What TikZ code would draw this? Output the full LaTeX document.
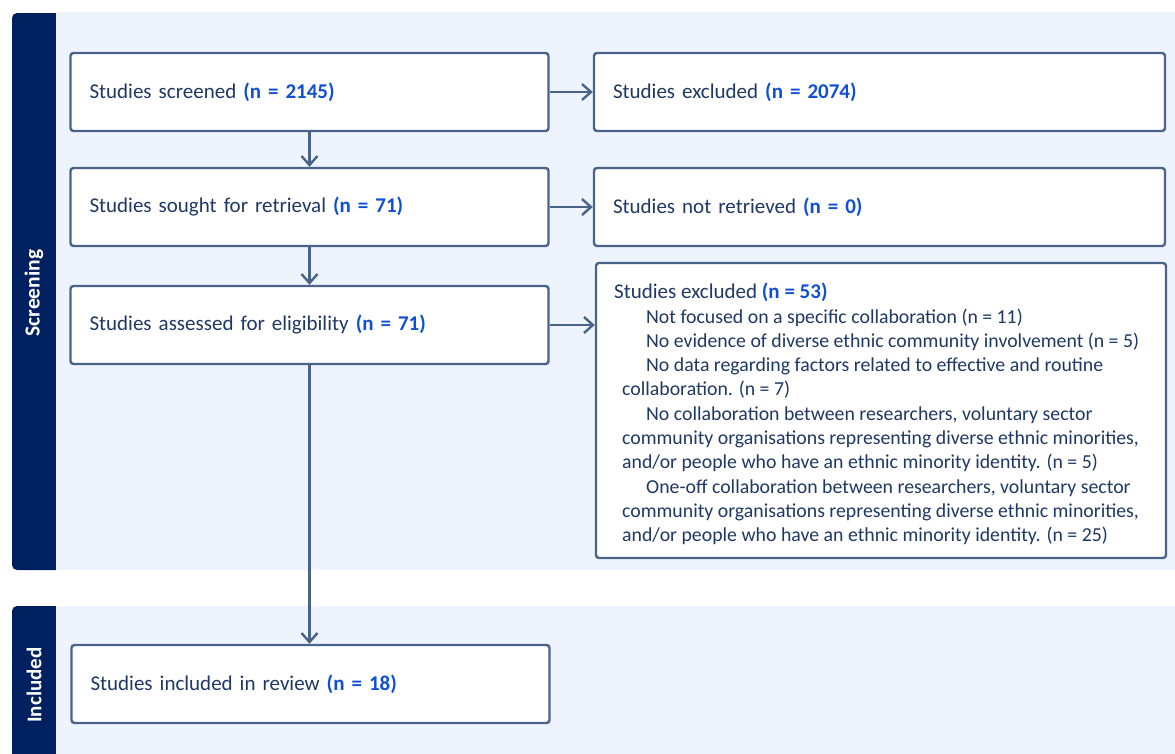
\documentclass[tikz,border=0pt]{standalone}
\usepackage{fontspec}
\setmainfont{Carlito}
\usetikzlibrary{arrows.meta}
\definecolor{navy}{HTML}{002060}
\definecolor{panel}{HTML}{EDF4FD}
\definecolor{edge}{HTML}{4A6489}
\definecolor{txt}{HTML}{1F3864}
\definecolor{hl}{HTML}{0F4FD8}
\newcommand{\nval}[1]{\textbf{\color{hl}#1}}
\begin{document}
\begin{tikzpicture}[x=1pt,y=-1pt,
  box/.style={draw=edge, line width=2.4pt, rounded corners=3pt, fill=white,
    minimum height=78pt, text width=#1, inner xsep=19pt, align=left,
    text=txt, font=\fontsize{21}{24}\selectfont},
  box/.default=440pt,
  conn/.style={draw=edge, line width=2.4pt, -{Straight Barb[length=9pt,width=16pt]}},
  bandlbl/.style={rotate=90, text=white, font=\bfseries\fontsize{#1}{20}\selectfont},
  listtxt/.style={anchor=north west, inner sep=0pt, align=left, text=txt,
    font=\fontsize{19.8}{24.3}\selectfont}]
\clip (0,0) rectangle (1175,753);
\fill[white] (0,0) rectangle (1175,753);
% bands
\begin{scope}
\clip (0,0) rectangle (56.5,753);
\fill[navy, rounded corners=5pt] (12,13) rectangle (80,570);
\fill[navy, rounded corners=5pt] (12,606) rectangle (80,780);
\end{scope}
\fill[panel] (56,12) rectangle (1175,570);
\fill[panel] (56,606) rectangle (1175,780);
\node[bandlbl=21.5] (lscr) at (34,293) {Screening};
\node[bandlbl=21] (linc) at (34,685) {Included};
% boxes
\node[box] (b1) at (309.5,92) {Studies screened \nval{(n = 2145)}};
\node[box] (b2) at (309.5,207) {Studies sought for retrieval \nval{(n = 71)}};
\node[box] (b3) at (309.5,325) {Studies assessed for eligibility \nval{(n = 71)}};
\node[box] (b4) at (310.5,684) {Studies included in review \nval{(n = 18)}};
\node[box=533pt] (e1) at (879.5,92) {Studies excluded \nval{(n = 2074)}};
\node[box=533pt] (e2) at (879.5,207) {Studies not retrieved \nval{(n = 0)}};
\node[draw=edge, line width=2.4pt, rounded corners=3pt, fill=white,
  minimum width=570pt, minimum height=295pt, inner sep=0pt] (e3) at (881,410.5) {};
\node[listtxt] (e3t) at (614,283) {{\fontsize{21}{24.3}\selectfont Studies excluded \nval{(n = 53)}}\\
\hspace*{32pt}Not focused on a specific collaboration (n = 11)\\
\hspace*{32pt}No evidence of diverse ethnic community involvement (n = 5)\\
\hspace*{32pt}No data regarding factors related to effective and routine\\
\hspace*{8pt}collaboration. (n = 7)\\
\hspace*{32pt}No collaboration between researchers, voluntary sector\\
\hspace*{8pt}community organisations representing diverse ethnic minorities,\\
\hspace*{8pt}and/or people who have an ethnic minority identity. (n = 5)\\
\hspace*{32pt}One-off collaboration between researchers, voluntary sector\\
\hspace*{8pt}community organisations representing diverse ethnic minorities,\\
\hspace*{8pt}and/or people who have an ethnic minority identity. (n = 25)};
% connectors
\draw[conn] (b1) -- (b2);
\draw[conn] (b2) -- (b3);
\draw[conn] (b3.south) -- (b3.south |- b4.north);
\draw[conn] (b1) -- (e1);
\draw[conn] (b2) -- (e2);
\draw[conn] (b3.east) -- (b3.east -| e3.west);
\end{tikzpicture}
\end{document}
